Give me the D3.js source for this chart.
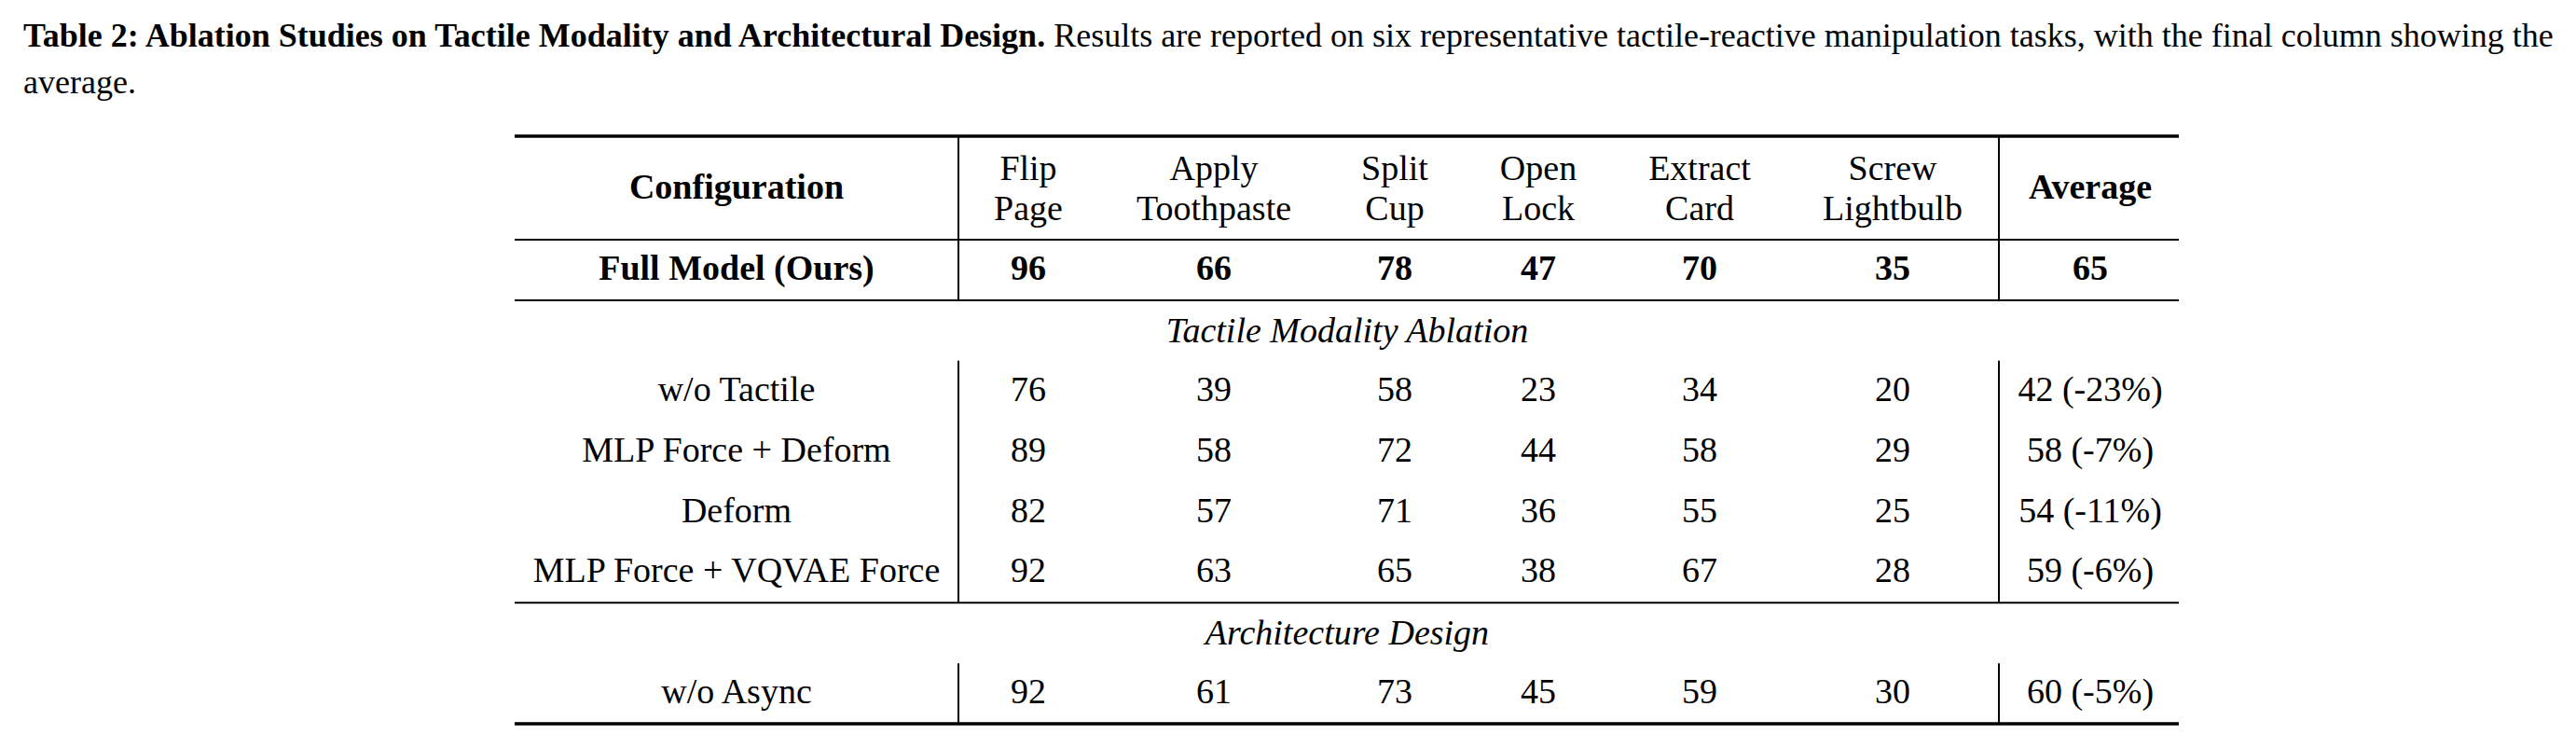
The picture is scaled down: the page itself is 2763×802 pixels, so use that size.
<!DOCTYPE html>
<html>
<head>
<meta charset="utf-8">
<script src="https://cdn.jsdelivr.net/npm/d3@7"></script>
<style>
  body { margin: 0; background: #fff; }
  text { font-family: "Liberation Serif", "Times New Roman", serif; fill: #000; }
</style>
</head>
<body>
<svg id="chart"></svg>
<script>
// caption
const captionBold = 'Table 2: Ablation Studies on Tactile Modality and Architectural Design.';
const captionRest = ' Results are reported on six representative tactile-reactive manipulation tasks, with the final column showing the';
const captionTail = 'average.';

// table data
const tasks = [
  ['Flip', 'Page'],
  ['Apply', 'Toothpaste'],
  ['Split', 'Cup'],
  ['Open', 'Lock'],
  ['Extract', 'Card'],
  ['Screw', 'Lightbulb']
];
const fullModelName = 'Full Model (Ours)';
const fullModelScores = [96, 66, 78, 47, 70, 35];
const fullModelAvg = 65;

const sections = ['Tactile Modality Ablation', 'Architecture Design'];

const tactileRows = ['w/o Tactile', 'MLP Force + Deform', 'Deform', 'MLP Force + VQVAE Force'];
const tactileScores = [
  [76, 39, 58, 23, 34, 20],
  [89, 58, 72, 44, 58, 29],
  [82, 57, 71, 36, 55, 25],
  [92, 63, 65, 38, 67, 28]
];
const tactileAvg = [42, 58, 54, 59];
const tactileDrop = [-23, -7, -11, -6];

const archRows = ['w/o Async'];
const archScores = [[92, 61, 73, 45, 59, 30]];
const archAvg = [60];
const archDrop = [-5];

const W = 2763, H = 802;
const svg = d3.select('#chart').attr('width', W).attr('height', H);

// caption
const cap = svg.append('text').attr('x', 25).attr('y', 50).style('font-size', '36px');
cap.append('tspan').style('font-weight', 'bold').text(captionBold);
cap.append('tspan').text(captionRest);
svg.append('text').attr('x', 25).attr('y', 100).style('font-size', '36px').text(captionTail);

// column scale
const cols = ['config', 0, 1, 2, 3, 4, 5, 'avg'];
const x = d3.scaleOrdinal().domain(cols)
  .range([790, 1103, 1302, 1496, 1650, 1823, 2030, 2242]);
const left = 552, right = 2337, sep1 = 1028, sep2 = 2144;

// rows below header: full, section, 4 rows, section, 1 row
const y = d3.scaleLinear().domain([0, 8]).range([257, 776]);
const base = 43;
const fs = '38px';

const g = svg.append('g');

// horizontal rules
const rules = [
  { y: 146, w: 3.3 },
  { y: y(0), w: 2 },
  { y: y(1), w: 2 },
  { y: y(6), w: 2 },
  { y: y(8), w: 3.3 }
];
g.selectAll('line.rule').data(rules).join('line')
  .attr('class', 'rule')
  .attr('x1', left).attr('x2', right)
  .attr('y1', d => d.y).attr('y2', d => d.y)
  .attr('stroke', '#000').attr('stroke-width', d => d.w);

// vertical rules
const vspans = [[146, y(1)], [y(2), y(6)], [y(7), y(8)]];
vspans.forEach(s => {
  [sep1, sep2].forEach(sx => {
    g.append('line')
      .attr('x1', sx).attr('x2', sx)
      .attr('y1', s[0]).attr('y2', s[1])
      .attr('stroke', '#000').attr('stroke-width', 2);
  });
});

// header
g.append('text').attr('x', x('config')).attr('y', 213)
  .attr('text-anchor', 'middle').style('font-size', fs).style('font-weight', 'bold')
  .text('Configuration');
g.append('text').attr('x', x('avg')).attr('y', 213)
  .attr('text-anchor', 'middle').style('font-size', fs).style('font-weight', 'bold')
  .text('Average');
tasks.forEach((t, i) => {
  t.forEach((line, j) => {
    g.append('text').attr('x', x(i)).attr('y', 192.5 + j * 43.5)
      .attr('text-anchor', 'middle').style('font-size', fs)
      .text(line);
  });
});

function drawRow(k, name, scores, avgText, bold) {
  const row = g.append('g').style('font-size', fs).style('font-weight', bold ? 'bold' : 'normal');
  const cells = [name].concat(scores).concat([avgText]);
  row.selectAll('text').data(cells).join('text')
    .attr('x', (d, i) => x(cols[i]))
    .attr('y', y(k) + base)
    .attr('text-anchor', 'middle')
    .text(d => d);
}

drawRow(0, fullModelName, fullModelScores, fullModelAvg, true);

// sections
[1, 6].forEach((k, i) => {
  g.append('text').attr('x', 1445).attr('y', y(k) + base + 2)
    .attr('text-anchor', 'middle').style('font-size', fs).style('font-style', 'italic')
    .text(sections[i]);
});

tactileRows.forEach((name, i) => {
  drawRow(2 + i, name, tactileScores[i], `${tactileAvg[i]} (${tactileDrop[i]}%)`, false);
});
archRows.forEach((name, i) => {
  drawRow(7 + i, name, archScores[i], `${archAvg[i]} (${archDrop[i]}%)`, false);
});
</script>
</body>
</html>
